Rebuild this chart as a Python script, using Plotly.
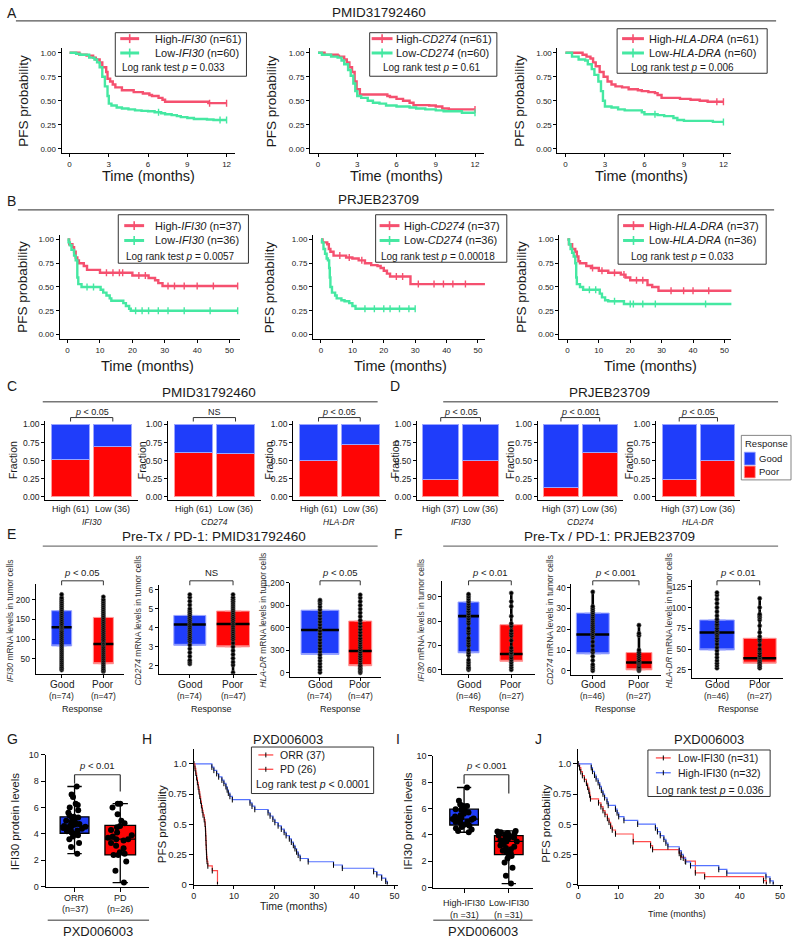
import plotly.graph_objects as go

# ======================= DATA =======================
# ---- A: PMID31792460 KM (months, PFS probability) ----
A1_high_t = [0, 0.75, 1.3, 1.8, 2.0, 2.3, 2.5, 2.8, 2.9, 3.1, 3.3, 3.5, 4.0, 4.9, 5.6, 6.1, 6.3, 6.8, 7.1, 7.3, 10.6, 12.0]
A1_high_s = [1.0, 0.98, 0.97, 0.95, 0.93, 0.90, 0.85, 0.80, 0.73, 0.70, 0.67, 0.64, 0.61, 0.59, 0.575, 0.56, 0.55, 0.53, 0.51, 0.49, 0.475, 0.475]
A1_high_c = [10.7, 12.0]
A1_low_t = [0, 0.5, 0.8, 1.5, 1.9, 2.1, 2.3, 2.5, 2.7, 2.9, 3.0, 3.2, 3.6, 4.0, 4.5, 5.0, 5.5, 6.0, 6.5, 7.0, 7.3, 7.8, 8.2, 8.5, 9.0, 9.5, 10.5, 11.0, 12.0]
A1_low_s = [1.0, 0.99, 0.98, 0.95, 0.93, 0.90, 0.85, 0.75, 0.65, 0.55, 0.47, 0.45, 0.43, 0.42, 0.41, 0.40, 0.395, 0.39, 0.38, 0.37, 0.36, 0.35, 0.34, 0.33, 0.32, 0.31, 0.305, 0.30, 0.30]
A1_low_c = [6.8, 11.5, 12.0]
A2_high_t = [0, 0.5, 1.5, 1.6, 2.0, 2.2, 2.4, 2.6, 2.8, 2.95, 3.2, 5.3, 5.5, 6.0, 6.5, 7.0, 7.3, 8.5, 9.0, 9.5, 10.0, 12.0]
A2_high_s = [1.0, 0.98, 0.97, 0.96, 0.93, 0.90, 0.85, 0.80, 0.70, 0.62, 0.565, 0.55, 0.54, 0.52, 0.50, 0.48, 0.455, 0.45, 0.44, 0.42, 0.41, 0.41]
A2_high_c = [12.0]
A2_low_t = [0, 0.3, 1.0, 1.5, 1.8, 2.0, 2.3, 2.5, 2.7, 2.85, 3.0, 3.3, 3.8, 4.2, 4.7, 5.2, 6.0, 7.0, 7.5, 8.2, 9.0, 9.6, 11.0, 12.0]
A2_low_s = [1.0, 0.98, 0.96, 0.95, 0.92, 0.88, 0.82, 0.76, 0.68, 0.60, 0.55, 0.53, 0.50, 0.48, 0.47, 0.45, 0.44, 0.43, 0.42, 0.41, 0.40, 0.39, 0.375, 0.375]
A2_low_c = [12.0]
A3_high_t = [0, 1.3, 1.6, 1.9, 2.1, 2.3, 2.6, 2.9, 3.2, 3.5, 3.8, 4.3, 4.8, 5.5, 5.8, 6.3, 6.8, 7.0, 7.3, 8.7, 9.5, 10.2, 10.8, 12.0]
A3_high_s = [1.0, 0.98, 0.96, 0.94, 0.90, 0.86, 0.80, 0.75, 0.70, 0.67, 0.65, 0.64, 0.62, 0.61, 0.60, 0.59, 0.58, 0.56, 0.53, 0.52, 0.51, 0.50, 0.49, 0.49]
A3_high_c = [11.5, 12.0]
A3_low_t = [0, 0.5, 1.0, 1.5, 1.7, 2.0, 2.2, 2.5, 2.7, 2.85, 3.0, 3.5, 4.0, 4.5, 5.8, 6.0, 7.0, 7.5, 8.2, 8.5, 9.0, 11.2, 12.0]
A3_low_s = [1.0, 0.96, 0.93, 0.92, 0.88, 0.83, 0.77, 0.70, 0.60, 0.50, 0.44, 0.43, 0.41, 0.40, 0.38, 0.36, 0.35, 0.34, 0.32, 0.30, 0.29, 0.28, 0.28]
A3_low_c = [6.8, 12.0]

# ---- B: PRJEB23709 KM ----
B1_high_t = [0, 0.5, 1.5, 2.0, 2.5, 3.0, 3.5, 5.0, 6.0, 10.0, 20.0, 25.0, 27.0, 28.0, 29.3, 52.5]
B1_high_s = [1.0, 0.95, 0.92, 0.87, 0.81, 0.78, 0.75, 0.72, 0.68, 0.65, 0.62, 0.595, 0.57, 0.54, 0.51, 0.51]
B1_high_c = [12, 14, 16, 17, 22, 24, 31, 33, 36, 40, 45, 52.5]
B1_low_t = [0, 0.3, 0.7, 1.2, 2.0, 2.5, 3.0, 3.3, 4.3, 10.2, 11.0, 12.0, 13.0, 13.5, 17.2, 18.0, 19.0, 19.5, 52.5]
B1_low_s = [1.0, 0.97, 0.94, 0.89, 0.83, 0.78, 0.60, 0.53, 0.50, 0.47, 0.44, 0.41, 0.38, 0.355, 0.33, 0.30, 0.27, 0.25, 0.25]
B1_low_c = [6, 8, 21, 23, 25, 28, 31, 36, 44, 52.5]
B2_high_t = [0, 0.5, 2.0, 2.5, 3.0, 4.0, 8.0, 10.0, 12.0, 14.0, 16.0, 18.0, 19.0, 20.0, 21.0, 22.0, 28.5, 53.0]
B2_high_s = [1.0, 0.97, 0.95, 0.90, 0.87, 0.83, 0.81, 0.80, 0.78, 0.75, 0.73, 0.72, 0.70, 0.67, 0.64, 0.61, 0.53, 0.53]
B2_high_c = [6, 9, 13, 24, 26, 31, 36, 39, 42, 46, 53]
B2_low_t = [0, 0.3, 0.8, 1.3, 1.8, 2.2, 2.6, 2.8, 3.0, 3.5, 4.5, 5.0, 6.5, 7.5, 9.0, 10.0, 11.0, 30.0]
B2_low_s = [1.0, 0.97, 0.90, 0.85, 0.80, 0.78, 0.70, 0.60, 0.50, 0.44, 0.41, 0.38, 0.36, 0.35, 0.33, 0.30, 0.27, 0.27]
B2_low_c = [14, 17, 20, 22, 25, 28, 30]
B3_high_t = [0, 0.5, 1.5, 2.5, 3.0, 3.5, 4.0, 6.0, 7.5, 10.0, 13.0, 17.0, 18.5, 20.0, 25.5, 27.0, 29.0, 53.0]
B3_high_s = [1.0, 0.95, 0.90, 0.87, 0.82, 0.77, 0.75, 0.72, 0.70, 0.67, 0.65, 0.63, 0.60, 0.57, 0.52, 0.50, 0.46, 0.46]
B3_high_c = [8, 11, 15, 18, 22, 24, 33, 37, 40, 45, 53]
B3_low_t = [0, 0.5, 1.0, 1.5, 2.0, 2.5, 2.8, 3.0, 4.0, 5.0, 10.3, 11.0, 12.0, 13.0, 18.0, 53.0]
B3_low_s = [1.0, 0.95, 0.90, 0.86, 0.82, 0.75, 0.60, 0.53, 0.50, 0.47, 0.43, 0.39, 0.36, 0.35, 0.32, 0.32]
B3_low_c = [7, 9, 15, 20, 21, 24, 28, 44, 53]

# ---- C / D: response fractions ----
bar_groups = [1, 2]
C_poor = [[0.51, 0.70], [0.61, 0.60], [0.50, 0.72]]
C_good = [[0.49, 0.30], [0.39, 0.40], [0.50, 0.28]]
D_poor = [[0.24, 0.50], [0.13, 0.61], [0.24, 0.50]]
D_good = [[0.76, 0.50], [0.87, 0.39], [0.76, 0.50]]
C_labels = ["High (61)", "Low (36)"]
D_labels = ["High (37)", "Low (36)"]
genes_CD = ["IFI30", "CD274", "HLA-DR"]
C_sig = ["<i>p</i> < 0.05", "NS", "<i>p</i> < 0.05"]
D_sig = ["<i>p</i> < 0.05", "<i>p</i> < 0.001", "<i>p</i> < 0.05"]

# ---- E / F: box stats [q1, median, q3, min, max] ----
E_good_stats = [[83, 130, 172, 22, 213], [3.08, 4.17, 4.65, 2.1, 5.75], [245, 570, 835, 0, 970]]
E_poor_stats = [[38, 88, 155, 18, 207], [3.0, 4.2, 4.88, 1.65, 5.75], [95, 290, 690, 0, 1040]]
F_good_stats = [[67, 82, 87.8, 60, 91], [8.2, 17.5, 27.8, 0, 38], [49, 70, 85, 27, 118]]
F_poor_stats = [[63.5, 66.5, 78.5, 60, 91.5], [0.5, 4, 8.8, 0, 22], [33, 39, 63, 27, 111]]
E_good_pts = [
    [22, 26, 30, 35, 40, 45, 50, 55, 60, 65, 70, 75, 80, 85, 90, 95, 100, 105, 110, 115, 120, 125, 128, 130, 133, 136, 140, 145, 150, 155, 160, 165, 170, 175, 180, 185, 190, 195, 200, 205, 213],
    [2.1, 2.2, 2.3, 2.5, 2.7, 2.9, 3.1, 3.3, 3.4, 3.5, 3.6, 3.7, 3.8, 3.9, 4.0, 4.1, 4.2, 4.3, 4.4, 4.5, 4.6, 4.7, 4.8, 4.9, 5.0, 5.2, 5.4, 5.6, 5.75],
    [5, 40, 80, 120, 160, 200, 240, 280, 320, 360, 400, 440, 480, 520, 560, 600, 640, 680, 720, 760, 800, 840, 880, 920, 950, 970]]
E_poor_pts = [
    [18, 21, 25, 30, 35, 40, 45, 50, 55, 60, 65, 70, 75, 80, 85, 88, 92, 96, 100, 105, 110, 115, 120, 125, 130, 135, 140, 145, 150, 155, 160, 165, 170, 175, 180, 185, 190, 195, 200, 207],
    [1.65, 2.05, 2.2, 2.4, 2.6, 2.8, 3.0, 3.2, 3.4, 3.5, 3.6, 3.7, 3.8, 3.9, 4.0, 4.1, 4.2, 4.3, 4.4, 4.5, 4.6, 4.7, 4.8, 4.9, 5.0, 5.1, 5.2, 5.3, 5.4, 5.5, 5.6, 5.75],
    [0, 20, 40, 60, 80, 100, 130, 160, 190, 220, 250, 280, 310, 340, 370, 400, 430, 460, 500, 540, 580, 620, 660, 700, 750, 800, 850, 900, 950, 1000, 1040]]
F_good_pts = [
    [60, 60.5, 61, 62, 63, 64, 66, 67, 68, 70, 71, 72, 73, 75, 76, 77, 79, 80, 81, 82, 83, 84, 85, 86, 87, 88, 89, 90, 91],
    [0, 1, 2, 3, 5, 7, 9, 10, 12, 14, 16, 17, 18, 19, 20, 21, 22, 23, 24, 25, 26, 27, 28, 29, 30, 31, 38],
    [27, 30, 33, 36, 40, 44, 48, 52, 56, 60, 63, 66, 68, 70, 72, 75, 78, 80, 83, 86, 90, 95, 100, 105, 110, 115, 118]]
F_poor_pts = [
    [60, 61, 62, 63, 64, 65, 66, 66.5, 67, 68, 69, 72, 74, 75, 76, 78, 79, 82, 86, 88, 91.5],
    [0, 0.5, 1, 1.5, 2, 3, 3.5, 4, 4.5, 5, 6, 7, 8, 9, 10, 17, 18, 22],
    [27, 29, 31, 33, 35, 37, 39, 40, 42, 45, 48, 50, 55, 60, 62, 65, 70, 78, 85, 88, 90, 92, 100, 111]]
E_sig = ["<i>p</i> < 0.05", "NS", "<i>p</i> < 0.05"]
F_sig = ["<i>p</i> < 0.01", "<i>p</i> < 0.001", "<i>p</i> < 0.01"]
E_n = ["(n=74)", "(n=47)"]
F_n = ["(n=46)", "(n=27)"]
E_yticks = [[50, 100, 150, 200], [2, 3, 4, 5, 6], [0, 300, 600, 900, 1200]]
E_yticktext = [["50", "100", "150", "200"], ["2", "3", "4", "5", "6"], ["0", "300", "600", "900", "1,200"]]
F_yticks = [[60, 70, 80, 90], [0, 10, 20, 30, 40], [25, 50, 75, 100, 125]]
genes_EF = ["IFI30", "CD274", "HLA-DR"]

# ---- G / I: IFI30 protein levels ----
G_orr = [2.5, 3.0, 3.3, 3.6, 3.8, 3.9, 4.0, 4.05, 4.1, 4.2, 4.25, 4.3, 4.4, 4.45, 4.5, 4.55, 4.6, 4.6, 4.65, 4.7, 4.75, 4.8, 4.9, 5.0, 5.1, 5.2, 5.25, 5.3, 5.4, 5.6, 5.8, 6.0, 6.2, 6.3, 6.8, 7.0, 7.6]
G_pd = [0.3, 1.2, 1.9, 2.4, 2.4, 2.5, 2.6, 2.9, 3.1, 3.3, 3.5, 3.6, 3.6, 3.7, 3.8, 3.9, 4.1, 4.3, 4.5, 4.6, 4.8, 5.0, 5.5, 6.0, 6.3, 6.3]
G_stats = [[4.05, 4.6, 5.3, 2.5, 7.6], [2.4, 3.6, 4.65, 0.3, 6.3]]
I_high = [4.2, 4.3, 4.4, 4.5, 4.6, 4.7, 4.75, 4.8, 4.9, 5.0, 5.0, 5.1, 5.15, 5.2, 5.2, 5.25, 5.3, 5.4, 5.5, 5.6, 5.7, 5.8, 5.9, 5.95, 6.0, 6.1, 6.2, 6.2, 6.3, 6.6, 7.6]
I_low = [0.3, 0.9, 1.5, 1.9, 2.2, 2.4, 2.5, 2.6, 2.7, 2.8, 2.9, 3.0, 3.1, 3.2, 3.3, 3.5, 3.5, 3.6, 3.7, 3.75, 3.8, 3.85, 3.9, 3.95, 4.0, 4.05, 4.1, 4.15, 4.2, 4.25, 4.3]
I_stats = [[4.75, 5.2, 5.95, 4.2, 7.6], [2.5, 3.5, 3.95, 0.3, 4.3]]
G_labels = ["ORR", "PD"]
G_n = ["(n=37)", "(n=26)"]
I_labels = ["High-IFI30", "Low-IFI30"]
I_n = ["(n =31)", "(n =31)"]
prot_yticks = [0, 2, 4, 6, 8, 10]

# ---- H / J: PXD006003 KM ----
H_orr_t = [0, 4.5, 5.0, 5.7, 6.2, 7.0, 7.5, 8.0, 8.3, 8.6, 9.0, 9.6, 14.0, 14.5, 15.2, 18.5, 19.0, 19.7, 20.2, 21.0, 21.8, 22.5, 23.0, 23.8, 24.3, 24.8, 25.2, 25.6, 26.0, 26.5, 28.5, 34.8, 37.0, 44.8, 45.6, 46.8, 47.8, 48.2]
H_orr_s = [1.0, 0.973, 0.946, 0.919, 0.892, 0.865, 0.838, 0.811, 0.784, 0.757, 0.730, 0.703, 0.676, 0.649, 0.622, 0.595, 0.568, 0.541, 0.514, 0.486, 0.459, 0.432, 0.405, 0.378, 0.351, 0.324, 0.297, 0.270, 0.243, 0.216, 0.189, 0.162, 0.135, 0.108, 0.081, 0.054, 0.027, 0.0]
H_pd_t = [0, 0.3, 0.5, 0.7, 0.9, 1.1, 1.3, 1.5, 1.7, 1.9, 2.1, 2.3, 2.6, 2.8, 2.9, 2.95, 3.0, 3.05, 3.1, 3.15, 3.2, 3.3, 3.5, 4.6, 5.9]
H_pd_s = [1.0, 0.962, 0.923, 0.885, 0.846, 0.808, 0.769, 0.731, 0.692, 0.654, 0.615, 0.577, 0.538, 0.500, 0.462, 0.423, 0.385, 0.346, 0.308, 0.269, 0.231, 0.192, 0.154, 0.115, 0.0]
J_high_t = [0, 3.2, 3.5, 4.0, 4.4, 4.9, 5.3, 5.7, 6.1, 6.5, 7.1, 7.4, 9.2, 9.6, 10.0, 11.3, 14.7, 19.1, 19.6, 20.3, 21.2, 21.7, 22.2, 25.0, 25.5, 26.0, 26.6, 27.8, 34.8, 36.8, 46.5, 47.5, 48.3]
J_high_s = [1.0, 0.969, 0.938, 0.906, 0.875, 0.844, 0.813, 0.781, 0.75, 0.719, 0.688, 0.656, 0.625, 0.594, 0.563, 0.531, 0.5, 0.469, 0.438, 0.406, 0.375, 0.344, 0.313, 0.281, 0.25, 0.219, 0.188, 0.156, 0.125, 0.094, 0.063, 0.031, 0.0]
J_low_t = [0, 0.3, 0.6, 1.0, 1.5, 2.0, 2.3, 2.6, 2.8, 3.0, 5.0, 5.6, 6.1, 6.6, 7.2, 7.6, 8.0, 8.4, 9.2, 13.6, 17.9, 18.4, 25.0, 25.4, 26.5, 29.0, 31.3, 45.9, 46.6]
J_low_s = [1.0, 0.968, 0.935, 0.903, 0.871, 0.839, 0.806, 0.774, 0.742, 0.71, 0.677, 0.645, 0.613, 0.581, 0.548, 0.516, 0.484, 0.452, 0.419, 0.355, 0.323, 0.29, 0.258, 0.226, 0.194, 0.097, 0.065, 0.032, 0.0]

km_yticks = [0, 0.25, 0.5, 0.75, 1.0]
km_yticktext = ["0.00", "0.25", "0.50", "0.75", "1.00"]
A_xticks = [0, 3, 6, 9, 12]
B_xticks = [0, 10, 20, 30, 40, 50]
HJ_xticks = [0, 10, 20, 30, 40, 50]
HJ_yticktext = ["0", "0.25", "0.5", "0.75", "1.0"]

# ======================= STYLE / HELPERS =======================
W, H = 794, 941
FONT = "Liberation Sans, Arial, sans-serif"
TXT = "#1a1a1a"
KM_RED = "#F5506F"
KM_GRN = "#45E8A2"
BLUE = "#1F3DFA"
RED = "#FF0505"
BLUE_EDGE = "#9AA5FF"
RED_EDGE = "#FF9A9A"
H_BLUE = "#5472FF"
H_RED = "#FF4A4A"

fig = go.Figure()
lay = dict(width=W, height=H, margin=dict(l=0, r=0, t=0, b=0), paper_bgcolor="white",
           plot_bgcolor="white", showlegend=False, font=dict(family=FONT, color=TXT),
           barmode="stack", boxmode="overlay")
ann = []
shp = []


def px(x):
    return x / W


def py(y):
    return 1 - y / H


def text(x, y, s, size=10, xa="center", angle=0, color=TXT, xref="paper"):
    ann.append(dict(x=px(x) if xref == "paper" else x, y=py(y), xref=xref, yref="paper", text=s,
                    showarrow=False, xanchor=xa, yanchor="middle", textangle=angle,
                    font=dict(size=size, color=color, family=FONT)))


def line(x0, y0, x1, y1, color="black", w=1.0):
    shp.append(dict(type="line", xref="paper", yref="paper", x0=px(x0), y0=py(y0), x1=px(x1), y1=py(y1),
                    line=dict(color=color, width=w)))


def rect(x0, y0, x1, y1, lc="#333", w=1.0, fill="rgba(0,0,0,0)"):
    shp.append(dict(type="rect", xref="paper", yref="paper", x0=px(x0), y0=py(y1), x1=px(x1), y1=py(y0),
                    line=dict(color=lc, width=w), fillcolor=fill))


class Panel:
    count = 0

    def __init__(self, xl, xr, yt, yb, xcal, ycal, xopts=None, yopts=None):
        Panel.count += 1
        n = Panel.count
        self.xr = "x" if n == 1 else f"x{n}"
        self.yr = "y" if n == 1 else f"y{n}"
        self.xcal, self.ycal = xcal, ycal

        def inv(cal, p):
            p0, v0, p1, v1 = cal
            return v0 + (p - p0) * (v1 - v0) / (p1 - p0)

        base = dict(showgrid=False, zeroline=False, showline=True, linecolor="black", linewidth=1.1,
                    ticks="outside", ticklen=3, tickwidth=1, tickcolor="black",
                    tickfont=dict(size=8, color="#222", family=FONT), fixedrange=True)
        xa = dict(base)
        xa.update(domain=[px(xl), px(xr)], range=[inv(xcal, xl), inv(xcal, xr)], anchor=self.yr)
        ya = dict(base)
        ya.update(domain=[py(yb), py(yt)], range=[inv(ycal, yb), inv(ycal, yt)], anchor=self.xr)
        if xopts:
            xa.update(xopts)
        if yopts:
            ya.update(yopts)
        lay["xaxis" if n == 1 else f"xaxis{n}"] = xa
        lay["yaxis" if n == 1 else f"yaxis{n}"] = ya

    def X(self, v):
        p0, v0, p1, v1 = self.xcal
        return p0 + (v - v0) * (p1 - p0) / (v1 - v0)

    def add(self, tr):
        tr.update(xaxis=self.xr, yaxis=self.yr)
        fig.add_trace(tr)


def step(t, s, c):
    v = s[0]
    for ti, si in zip(t, s):
        if ti <= c:
            v = si
    return v


# ======================= HEADERS =======================
def letter(x, y, s):
    text(x, y, s, size=14, xa="left")


letter(2, 8, "A")
text(378, 8, "PMID31792460", size=13.5)
line(13, 16, 778, 16, "#555", 1.2)
letter(2, 198, "B")
text(378, 197, "PRJEB23709", size=13.5)
line(15, 207, 776, 207, "#555", 1.2)

# ======================= A / B KM =======================
def km_panel(P, curves):
    for t, s, c, col in curves:
        P.add(go.Scatter(x=t, y=s, mode="lines", line=dict(color=col, width=2.4, shape="hv"),
                         hoverinfo="skip"))
        P.add(go.Scatter(x=c, y=[step(t, s, ci) for ci in c], mode="markers",
                         marker=dict(symbol="line-ns", size=5, line=dict(color=col, width=1.4)),
                         hoverinfo="skip"))


def km_legend(box, sx, tx, rows, logpos, logtext):
    x0, y0, x1, y1 = box
    rect(x0, y0, x1, y1, "#333", 1)
    for ly, col, lab in rows:
        line(sx[0], ly, sx[1], ly, col, 3)
        mid = (sx[0] + sx[1]) / 2
        line(mid, ly - 4.5, mid, ly + 4.5, col, 1.6)
        text(tx, ly, lab, size=11, xa="left")
    text(logpos[0], logpos[1], logtext, size=10, xa="left")


yk = dict(tickvals=km_yticks, ticktext=km_yticktext)
A_specs = [
    (59, 233, 67, 225, "IFI30", [A1_high_t, A1_high_s, A1_high_c], [A1_low_t, A1_low_s, A1_low_c],
     (113, 28, 245, 72), (118, 137), 151, (118, 63), "Log rank test <i>p</i> = 0.033", 21, 146),
    (309, 484, 317, 475, "CD274", [A2_high_t, A2_high_s, A2_high_c], [A2_low_t, A2_low_s, A2_low_c],
     (369, 28, 497, 72), (371, 392), 393, (380, 63), "Log rank test <i>p</i> = 0.61", 271, 396),
    (558, 733, 566, 725, "HLA-DRA", [A3_high_t, A3_high_s, A3_high_c], [A3_low_t, A3_low_s, A3_low_c],
     (618, 24, 769, 69), (623, 645), 648, (630, 63), "Log rank test <i>p</i> = 0.006", 520, 643),
]
for xl, xr, p0, p1, g, hi, lo, box, sx, tx, lp, lt, ytx, xtx in A_specs:
    P = Panel(xl, xr, 43, 150, (p0, 0, p1, 12), (145.3, 0, 48.3, 1),
              xopts=dict(tickvals=A_xticks), yopts=yk)
    km_panel(P, [hi + [KM_RED], lo + [KM_GRN]])
    km_legend(box, sx, tx, [(34, KM_RED, f"High-<i>{g}</i> (n=61)"), (48.5, KM_GRN, f"Low-<i>{g}</i> (n=60)")],
              lp, lt)
    text(ytx, 97, "PFS probability", size=13.5, angle=-90)
    text(xtx, 173, "Time (months)", size=14.5)

B_specs = [
    (57, 238, 65, 228, "IFI30", [B1_high_t, B1_high_s, B1_high_c], [B1_low_t, B1_low_s, B1_low_c],
     (116, 212, 247, 261), (122, 142), 151, (122, 254), "Log rank test <i>p</i> = 0.0057", 20, 145),
    (312, 485, 320, 478, "CD274", [B2_high_t, B2_high_s, B2_high_c], [B2_low_t, B2_low_s, B2_low_c],
     (375, 212, 507, 260), (379, 399), 402, (378, 254), "Log rank test <i>p</i> = 0.00018", 269, 400),
    (560, 733, 568, 726, "HLA-DRA", [B3_high_t, B3_high_s, B3_high_c], [B3_low_t, B3_low_s, B3_low_c],
     (619, 212, 768, 262), (624, 645), 648, (630, 254), "Log rank test <i>p</i> = 0.033", 522, 652),
]
for xl, xr, p0, p1, g, hi, lo, box, sx, tx, lp, lt, ytx, xtx in B_specs:
    P = Panel(xl, xr, 232, 338, (p0, 0, p1, 50), (333, 0, 237, 1),
              xopts=dict(tickvals=B_xticks), yopts=yk)
    km_panel(P, [hi + [KM_RED], lo + [KM_GRN]])
    km_legend(box, sx, tx, [(223, KM_RED, f"High-<i>{g}</i> (n=37)"), (238, KM_GRN, f"Low-<i>{g}</i> (n=36)")],
              lp, lt)
    text(ytx, 285, "PFS probability", size=13.5, angle=-90)
    text(xtx, 365, "Time (months)", size=14.5)

# ======================= C / D bars =======================
letter(2, 385, "C")
letter(387, 385, "D")
text(207, 392, "PMID31792460", size=13.5)
line(40, 401, 377, 401, "#777", 1.3)
text(610, 392, "PRJEB23709", size=13.5)
line(443, 401, 780, 401, "#777", 1.3)

bar_geo = [((42.5, 136), (68, 110.5), 10), ((166, 259.5), (191.5, 234), 140), ((292, 385), (317.5, 359.5), 268),
           ((416.5, 504.5), (440.5, 480.5), 395), ((538, 624), (561.5, 600.5), 510),
           ((657, 742), (680.5, 719), 630)]
bar_data = [(C_poor[i], C_good[i], C_labels, genes_CD[i], C_sig[i]) for i in range(3)] + \
           [(D_poor[i], D_good[i], D_labels, genes_CD[i], D_sig[i]) for i in range(3)]
for (dom, cen, ytx), (poor, good, labs, gene, sig) in zip(bar_geo, bar_data):
    P = Panel(dom[0], dom[1], 420.4, 500.6, (cen[0], 1, cen[1], 2), (497, 0, 424, 1),
              xopts=dict(ticks="", showticklabels=False),
              yopts=dict(tickvals=km_yticks, ticktext=km_yticktext, tickfont=dict(size=8.5, color="#222", family=FONT)))
    P.add(go.Bar(x=bar_groups, y=poor, width=0.9, marker=dict(color=RED, line=dict(color=RED_EDGE, width=1)),
                 hoverinfo="skip"))
    P.add(go.Bar(x=bar_groups, y=good, width=0.9, marker=dict(color=BLUE, line=dict(color=BLUE_EDGE, width=1)),
                 hoverinfo="skip"))
    for g, lab in zip(bar_groups, labs):
        text(g, 509.5, lab, size=9, xref=P.xr)
    text(1.5, 522.5, f"<i>{gene}</i>", size=8.5, xref=P.xr)
    xa, xb = P.X(1), P.X(2)
    line(xa, 417, xb, 417, "#333", 1)
    line(xa, 417, xa, 421, "#333", 1)
    line(xb, 417, xb, 421, "#333", 1)
    text(1.5, 411, sig, size=9, xref=P.xr)
    text(ytx, 460, "Fraction", size=10.5, angle=-90)

# Response legend
rect(743, 435, 793, 480, "#666", 0.8)
text(768, 443, "Response", size=9.5)
rect(746, 452, 757, 465, BLUE_EDGE, 0.8, BLUE)
text(758.5, 458.5, "Good", size=9.5, xa="left")
rect(746, 466, 757, 478, RED_EDGE, 0.8, RED)
text(758.5, 472, "Poor", size=9.5, xa="left")

# ======================= E / F boxes =======================
letter(2, 535, "E")
letter(391, 535, "F")
text(212, 537, "Pre-Tx / PD-1: PMID31792460", size=13.5)
line(40, 547, 377, 547, "#777", 1.3)
text(610, 537, "Pre-Tx / PD-1: PRJEB23709", size=13.5)
line(443, 547, 780, 547, "#777", 1.3)

EF_geo = [
    (33, 122, 585, 676, (59, 1, 101, 2), (661, 50, 601, 200), (0.48, 0.48), 7),
    (157, 256, 586, 676, (188, 1, 231.5, 2), (668, 2, 591, 6), (0.74, 0.76), 136),
    (289, 380, 584, 679, (319, 1, 359.5, 2), (675, 0, 584, 1200), (0.94, 0.57), 262),
    (442, 535, 582, 676, (468.5, 1, 511.5, 2), (672, 60, 598, 90), (0.49, 0.53), 421),
    (572, 662, 585, 677, (593.5, 1, 640, 2), (673, 0, 589, 40), (0.71, 0.56), 551),
    (693, 785, 581, 680, (718.5, 1, 761.5, 2), (651, 50, 588, 125), (0.81, 0.77), 671),
]
EF_data = [(E_good_stats[i], E_poor_stats[i], E_good_pts[i], E_poor_pts[i], E_sig[i], E_n, genes_EF[i],
            E_yticks[i], E_yticktext[i]) for i in range(3)] + \
          [(F_good_stats[i], F_poor_stats[i], F_good_pts[i], F_poor_pts[i], F_sig[i], F_n, genes_EF[i],
            F_yticks[i], [str(v) for v in F_yticks[i]]) for i in range(3)]

for (xl, xr, yt, yb, xcal, ycal, wds, ytx), (gs, ps, gp, pp, sig, ns, gene, ytv, ytt) in zip(EF_geo, EF_data):
    P = Panel(xl, xr, yt, yb, xcal, ycal,
              xopts=dict(tickvals=[1, 2], showticklabels=False),
              yopts=dict(tickvals=ytv, ticktext=ytt, tickfont=dict(size=8.5, color="#222", family=FONT)))
    for xpos, st, pts, fill, edge, wd in [(1, gs, gp, BLUE, BLUE_EDGE, wds[0]), (2, ps, pp, RED, RED_EDGE, wds[1])]:
        q1, med, q3, lo, hi = st
        P.add(go.Box(x=[xpos], q1=[q1], median=[q1], q3=[q3], lowerfence=[q1], upperfence=[q3],
                     width=wd, fillcolor=fill, line=dict(color=edge, width=1), hoverinfo="skip"))
        P.add(go.Box(x=[xpos], q1=[med], median=[med], q3=[med], lowerfence=[lo], upperfence=[hi],
                     width=wd, fillcolor="rgba(0,0,0,0)", line=dict(color="black", width=2.6),
                     whiskerwidth=0, hoverinfo="skip"))
        P.add(go.Scatter(x=[xpos] * len(pts), y=pts, mode="markers",
                         marker=dict(color="black", size=4.2, line=dict(color="#555", width=0.6)),
                         hoverinfo="skip"))
    for g, lab, n in zip([1, 2], ["Good", "Poor"], ns):
        text(g, 687, lab, size=10, xref=P.xr)
        text(g, 698.5, n, size=8.5, xref=P.xr)
    text(1.5, 712, "Response", size=9, xref=P.xr)
    xa, xb = P.X(1), P.X(2)
    line(xa, 582, xb, 582, "#333", 1)
    line(xa, 582, xa, 586.5, "#333", 1)
    line(xb, 582, xb, 586.5, "#333", 1)
    text(1.5, 573.5, sig, size=9.5, xref=P.xr)
    text(ytx, 622, f"<i>{gene}</i> mRNA levels in tumor cells", size=8.5, angle=-90, color="#333")

# ======================= G / I protein boxes =======================
letter(2, 742, "G")
letter(138, 742, "H")
letter(393, 742, "I")
letter(533, 742, "J")

GI_specs = [
    (43, 147, 758, 891, (72, 1, 118, 2), (891, 0, 758, 10), (0.63, 0.67), G_stats, [G_orr, G_pd],
     G_labels, G_n, (903, 914), "<i>p</i> < 0.01", (787, 795), 12, (45, 147)),
    (433, 533, 759, 892, (464, 1, 509, 2), (892, 0, 759, 10), (0.64, 0.64), I_stats, [I_high, I_low],
     I_labels, I_n, (908, 920), "<i>p</i> < 0.001", (787, 797), 408, (433, 533)),
]
for xl, xr, yt, yb, xcal, ycal, wds, stats, pts, labs, ns, lys, sig, ends, ytx, ul in GI_specs:
    P = Panel(xl, xr, yt, yb, xcal, ycal,
              xopts=dict(tickvals=[1, 2], showticklabels=False, ticklen=4),
              yopts=dict(tickvals=prot_yticks, ticklen=4, tickfont=dict(size=9, color="#222", family=FONT)))
    for xpos, st, p, fill, wd in [(1, stats[0], pts[0], BLUE, wds[0]), (2, stats[1], pts[1], RED, wds[1])]:
        q1, med, q3, lo, hi = st
        P.add(go.Box(x=[xpos], q1=[q1], median=[med], q3=[q3], lowerfence=[lo], upperfence=[hi],
                     width=wd, fillcolor=fill, line=dict(color="black", width=1.3), whiskerwidth=0.5,
                     hoverinfo="skip"))
        P.add(go.Box(x=[xpos] * len(p), y=p, boxpoints="all", jitter=0.85, pointpos=0, width=wd,
                     fillcolor="rgba(0,0,0,0)", line=dict(color="rgba(0,0,0,0)", width=0),
                     marker=dict(color="black", size=6), hoverinfo="skip"))
    for g, lab, n in zip([1, 2], labs, ns):
        text(g, lys[0], lab, size=9, xref=P.xr)
        text(g, lys[1], n, size=9, xref=P.xr)
    xa, xb = P.X(1), P.X(2)
    line(xa, 778, xb, 778, "#333", 1.2)
    line(xa, 778, xa, ends[0], "#333", 1.2)
    line(xb, 778, xb, ends[1], "#333", 1.2)
    text(1.5, 769, sig, size=9.5, xref=P.xr)
    text(ytx, 825, "IFI30 protein levels", size=11.5, angle=-90)
    line(ul[0], 925, ul[1], 925, "#333", 1)
    text((ul[0] + ul[1]) / 2, 936, "PXD006003", size=13)

# ======================= H / J KM =======================
HJ_specs = [
    (192, 397, (192, 0, 394, 50), [(H_orr_t, H_orr_s, H_BLUE), (H_pd_t, H_pd_s, H_RED)],
     (287, 742), (160, 828), (292, 911, 10.5), (250, 750, 373, 797), (257, 272), 277,
     [(758, H_RED, "ORR (37)"), (772.5, H_RED, "PD (26)")], (253, 787), "Log rank test <i>p</i> < 0.0001"),
    (579, 785, (579, 0, 782, 50), [(J_low_t, J_low_s, H_RED), (J_high_t, J_high_s, H_BLUE)],
     (710, 742), (547, 828), (678, 919, 9), (649, 753, 772, 800), (657, 672), 677,
     [(761, H_RED, "Low-IFI30 (n=31)"), (776, H_BLUE, "High-IFI30 (n=32)")], (655, 793),
     "Log rank test <i>p</i> = 0.036"),
]
for xl, xr, xcal, curves, tpos, ypos, xtpos, box, sx, tx, rows, lpos, ltxt in HJ_specs:
    P = Panel(xl, xr, 752, 889, xcal, (889, 0, 767, 1),
              xopts=dict(tickvals=HJ_xticks, ticklen=3, tickfont=dict(size=9, color="#222", family=FONT)),
              yopts=dict(tickvals=km_yticks, ticktext=HJ_yticktext, ticklen=4,
                         tickfont=dict(size=9.5, color="#222", family=FONT)))
    for t, s, col in curves:
        P.add(go.Scatter(x=t, y=s, mode="lines+markers", line=dict(color=col, width=1.2, shape="hv"),
                         marker=dict(symbol="line-ns", size=4, line=dict(color="black", width=1)),
                         hoverinfo="skip"))
    text(tpos[0], tpos[1], "PXD006003", size=13)
    text(ypos[0], ypos[1], "PFS probability", size=11.5, angle=-90)
    text(xtpos[0], xtpos[1], "Time (months)", size=xtpos[2])
    rect(box[0], box[1], box[2], box[3], "#333", 1)
    for ly, col, lab in rows:
        line(sx[0], ly, sx[1], ly, col, 1.3)
        mid = (sx[0] + sx[1]) / 2
        line(mid, ly - 2.5, mid, ly + 2.5, "black", 1)
        text(tx, ly, lab, size=10.5, xa="left")
    text(lpos[0], lpos[1], ltxt, size=10.5, xa="left")

lay["annotations"] = ann
lay["shapes"] = shp
fig.update_layout(**lay)
fig.write_html("out.html")
